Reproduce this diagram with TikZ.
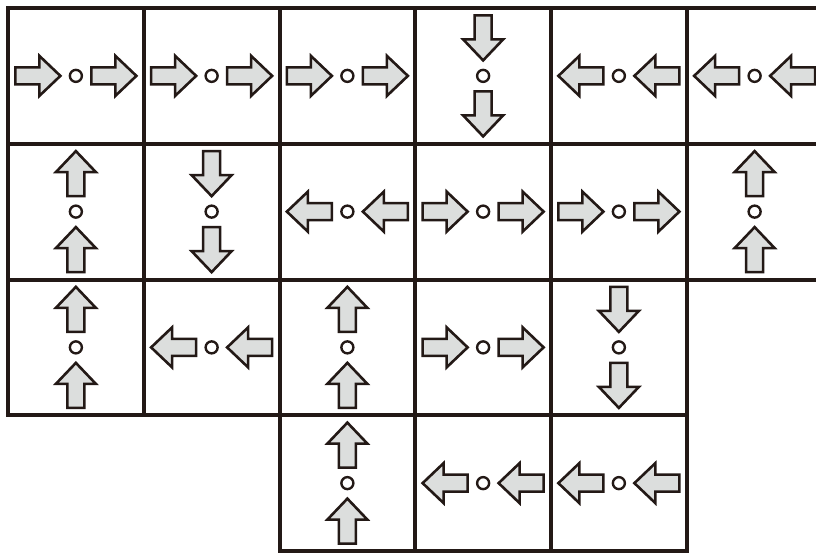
\documentclass[tikz,border=0pt]{standalone}
\usepackage{tikz}
\usetikzlibrary{positioning, calc}
\definecolor{LineColor}{RGB}{35,25,22}
\definecolor{ArrowFill}{RGB}{220,222,221}
\tikzstyle{cell} = [draw=LineColor, line width=4pt, minimum size=135.75pt, inner sep=0pt]
\tikzstyle{blockline} = [draw=LineColor, line width=2.6pt, fill=ArrowFill, line join=miter]
\tikzstyle{dot} = [circle, draw=LineColor, line width=2.4pt, fill=white, minimum size=12pt, inner sep=0pt]
\tikzset{
  pairarrow/.pic={
    \foreach \s in {-38,38}
      \path[blockline, shift={(\s,0)}] (-22.5,-8.5) -- (1.5,-8.5) -- (1.5,-20) -- (22.5,0)
        -- (1.5,20) -- (1.5,8.5) -- (-22.5,8.5) -- cycle;
    \node[dot] (-dot) at (0,0) {};
  }
}

\begin{document}
\begin{tikzpicture}[x=1pt, y=-1pt]
  \useasboundingbox (0,0) rectangle (816,552);
  % column/row/direction of each cell
  \foreach \c/\r/\a in {1/1/0, 2/1/0, 3/1/0, 4/1/270, 5/1/180, 6/1/180,
                        1/2/90, 2/2/270, 3/2/180, 4/2/0, 5/2/0, 6/2/90,
                        1/3/90, 2/3/180, 3/3/90, 4/3/0, 5/3/270,
                        3/4/90, 4/4/180, 5/4/180} {
    \node[cell] (cell\c\r) at ({8+135.75*(\c-0.5)}, {8+135.75*(\r-0.5)}) {};
    \pic[rotate=\a] (arr\c\r) at (cell\c\r) {pairarrow};
  }
\end{tikzpicture}
\end{document}
